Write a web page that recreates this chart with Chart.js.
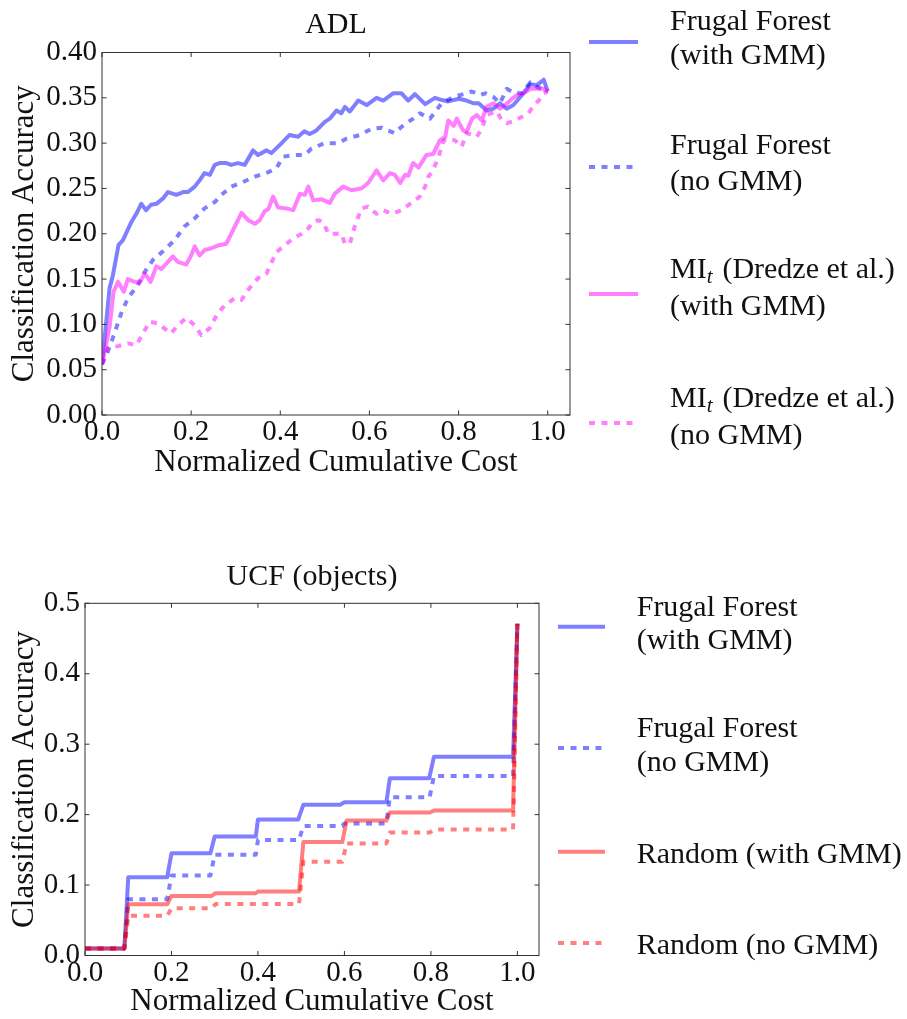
<!DOCTYPE html>
<html>
<head>
<meta charset="utf-8">
<script src="https://cdn.jsdelivr.net/npm/chart.js@4.4.1/dist/chart.umd.min.js"></script>
<style>
  html, body { margin: 0; padding: 0; background: #fff; overflow: hidden; }
  canvas { position: absolute; left: 0; display: block; }
  #c1 { top: 0; }
  #c2 { top: 500px; }
</style>
</head>
<body>
<canvas id="c1" width="907" height="500"></canvas>
<canvas id="c2" width="907" height="519"></canvas>
<script>
// ---------------- DATA ----------------
const xTickValues = [0, 0.2, 0.4, 0.6, 0.8, 1.0];
const adlYTicks = [0, 0.05, 0.10, 0.15, 0.20, 0.25, 0.30, 0.35, 0.40];
const ucfYTicks = [0, 0.1, 0.2, 0.3, 0.4, 0.5];

const adlLabels = [
  ['Frugal Forest', '(with GMM)'],
  ['Frugal Forest', '(no GMM)'],
  ['MI_t (Dredze et al.)', '(with GMM)'],
  ['MI_t (Dredze et al.)', '(no GMM)']
];
const ucfLabels = [
  ['Frugal Forest', '(with GMM)'],
  ['Frugal Forest', '(no GMM)'],
  ['Random (with GMM)'],
  ['Random (no GMM)']
];

// ADL: [normalized cumulative cost, classification accuracy]
const adlFrugalGmm = [[0,0.056],[0.017,0.14],[0.024,0.153],[0.037,0.1875],[0.047,0.193],[0.066,0.213],[0.077,0.222],[0.088,0.233],[0.099,0.226],[0.11,0.232],[0.122,0.233],[0.137,0.239],[0.148,0.246],[0.167,0.243],[0.182,0.246],[0.193,0.246],[0.208,0.252],[0.219,0.259],[0.23,0.267],[0.242,0.265],[0.253,0.276],[0.264,0.278],[0.279,0.278],[0.29,0.276],[0.305,0.278],[0.32,0.276],[0.339,0.292],[0.35,0.287],[0.369,0.292],[0.38,0.289],[0.403,0.3],[0.421,0.309],[0.44,0.307],[0.454,0.313],[0.466,0.31],[0.481,0.314],[0.5,0.3235],[0.511,0.327],[0.526,0.336],[0.537,0.333],[0.545,0.34],[0.556,0.335],[0.575,0.347],[0.594,0.342],[0.616,0.35],[0.631,0.347],[0.653,0.355],[0.672,0.355],[0.687,0.347],[0.702,0.354],[0.725,0.343],[0.747,0.35],[0.759,0.348],[0.777,0.346],[0.8,0.349],[0.818,0.347],[0.833,0.344],[0.845,0.344],[0.863,0.336],[0.878,0.338],[0.893,0.344],[0.908,0.338],[0.923,0.342],[0.942,0.353],[0.961,0.365],[0.976,0.364],[0.991,0.37],[1.0,0.357]];
const adlFrugalNoGmm = [[0,0.056],[0.013,0.07],[0.028,0.09],[0.043,0.112],[0.058,0.129],[0.08,0.143],[0.096,0.158],[0.114,0.171],[0.14,0.182],[0.163,0.193],[0.185,0.208],[0.208,0.217],[0.23,0.228],[0.253,0.235],[0.268,0.243],[0.29,0.252],[0.316,0.257],[0.343,0.263],[0.373,0.268],[0.391,0.272],[0.406,0.285],[0.433,0.287],[0.455,0.287],[0.47,0.294],[0.5,0.3],[0.53,0.3],[0.549,0.305],[0.579,0.309],[0.605,0.316],[0.627,0.317],[0.657,0.311],[0.672,0.318],[0.698,0.327],[0.713,0.333],[0.736,0.327],[0.762,0.344],[0.789,0.351],[0.818,0.355],[0.83,0.357],[0.848,0.353],[0.86,0.355],[0.878,0.351],[0.893,0.344],[0.908,0.36],[0.927,0.355],[0.942,0.355],[0.961,0.367],[0.976,0.362],[1.0,0.357]];
const adlMiGmm = [[0,0.056],[0.017,0.097],[0.026,0.136],[0.036,0.147],[0.049,0.136],[0.058,0.15],[0.073,0.147],[0.084,0.146],[0.096,0.156],[0.109,0.147],[0.122,0.164],[0.133,0.161],[0.148,0.169],[0.159,0.175],[0.17,0.169],[0.189,0.166],[0.199,0.175],[0.208,0.186],[0.219,0.176],[0.23,0.182],[0.245,0.184],[0.26,0.187],[0.279,0.189],[0.29,0.2],[0.313,0.223],[0.328,0.215],[0.343,0.211],[0.354,0.215],[0.365,0.225],[0.373,0.227],[0.384,0.241],[0.395,0.229],[0.414,0.228],[0.429,0.226],[0.444,0.244],[0.455,0.243],[0.463,0.252],[0.474,0.237],[0.493,0.238],[0.511,0.234],[0.522,0.244],[0.541,0.252],[0.56,0.248],[0.582,0.25],[0.597,0.256],[0.616,0.27],[0.631,0.259],[0.646,0.267],[0.657,0.265],[0.669,0.256],[0.68,0.265],[0.687,0.264],[0.698,0.278],[0.71,0.273],[0.728,0.287],[0.743,0.288],[0.758,0.303],[0.77,0.307],[0.777,0.325],[0.789,0.319],[0.796,0.327],[0.81,0.314],[0.818,0.3125],[0.83,0.327],[0.841,0.331],[0.852,0.325],[0.863,0.34],[0.878,0.344],[0.893,0.338],[0.905,0.342],[0.92,0.349],[0.931,0.353],[0.946,0.355],[0.961,0.36],[0.98,0.36],[0.991,0.36],[1.0,0.357]];
const adlMiNoGmm = [[0,0.056],[0.013,0.074],[0.036,0.076],[0.058,0.079],[0.077,0.077],[0.092,0.09],[0.107,0.103],[0.126,0.101],[0.144,0.094],[0.155,0.09],[0.17,0.099],[0.189,0.107],[0.208,0.099],[0.223,0.088],[0.242,0.096],[0.257,0.11],[0.275,0.121],[0.298,0.129],[0.313,0.127],[0.331,0.14],[0.35,0.151],[0.369,0.156],[0.376,0.164],[0.392,0.18],[0.414,0.189],[0.429,0.195],[0.448,0.2],[0.463,0.206],[0.474,0.213],[0.485,0.215],[0.496,0.213],[0.508,0.2],[0.522,0.2],[0.537,0.2],[0.545,0.189],[0.556,0.189],[0.567,0.208],[0.582,0.228],[0.597,0.23],[0.616,0.222],[0.631,0.226],[0.65,0.222],[0.672,0.226],[0.691,0.233],[0.713,0.241],[0.725,0.252],[0.732,0.263],[0.743,0.27],[0.755,0.285],[0.767,0.303],[0.777,0.305],[0.792,0.303],[0.807,0.296],[0.818,0.311],[0.83,0.309],[0.841,0.307],[0.852,0.316],[0.863,0.331],[0.874,0.333],[0.886,0.335],[0.897,0.325],[0.908,0.322],[0.923,0.324],[0.942,0.329],[0.957,0.333],[0.969,0.342],[0.98,0.347],[0.991,0.355],[1.0,0.357]];

// UCF (objects)
const ucfFrugalGmm = [[0,0.01],[0.091,0.01],[0.1,0.111],[0.19,0.111],[0.2,0.145],[0.29,0.145],[0.3,0.169],[0.395,0.169],[0.4,0.193],[0.493,0.193],[0.505,0.214],[0.59,0.214],[0.6,0.2175],[0.697,0.2175],[0.705,0.2515],[0.796,0.2515],[0.807,0.282],[0.99,0.282],[1.0,0.471]];
const ucfFrugalNoGmm = [[0,0.01],[0.091,0.01],[0.1,0.08],[0.19,0.08],[0.2,0.1135],[0.29,0.1135],[0.3,0.143],[0.395,0.143],[0.4,0.164],[0.495,0.164],[0.505,0.184],[0.595,0.184],[0.6,0.1875],[0.697,0.1875],[0.705,0.2245],[0.797,0.2245],[0.807,0.255],[0.99,0.255],[1.0,0.471]];
const ucfRandomGmm = [[0,0.01],[0.091,0.01],[0.1,0.0728],[0.19,0.0728],[0.2,0.0846],[0.293,0.0846],[0.302,0.0884],[0.395,0.0884],[0.4,0.0908],[0.495,0.0908],[0.505,0.161],[0.595,0.161],[0.605,0.1915],[0.697,0.1915],[0.705,0.203],[0.797,0.203],[0.807,0.2057],[0.99,0.2057],[1.0,0.471]];
const ucfRandomNoGmm = [[0,0.01],[0.091,0.01],[0.1,0.0563],[0.19,0.0563],[0.2,0.067],[0.293,0.067],[0.302,0.073],[0.495,0.073],[0.505,0.133],[0.595,0.133],[0.605,0.159],[0.697,0.159],[0.705,0.1745],[0.797,0.1745],[0.807,0.179],[0.99,0.179],[1.0,0.471]];

// ---------------- STYLE ----------------
const SERIF = "'Liberation Serif', 'DejaVu Serif', serif";
const TXT = '#111';
const BLUE = 'rgba(0,0,255,0.5)';
const MAGENTA = 'rgba(255,0,255,0.5)';
const RED = 'rgba(255,0,0,0.5)';
const DASH = [6, 6.5];

// inner ticks + full frame
const framePlugin = {
  id: 'frameTicks',
  afterDatasetsDraw(chart) {
    const ctx = chart.ctx;
    const {left, right, top, bottom} = chart.chartArea;
    const xs = chart.scales.x, ys = chart.scales.y;
    const L = 4.5;
    ctx.save();
    ctx.strokeStyle = '#333';
    ctx.lineWidth = 1;
    ctx.beginPath();
    xs.ticks.forEach(t => {
      const p = xs.getPixelForValue(t.value);
      ctx.moveTo(p, bottom); ctx.lineTo(p, bottom - L);
      ctx.moveTo(p, top); ctx.lineTo(p, top + L);
    });
    ys.ticks.forEach(t => {
      const p = ys.getPixelForValue(t.value);
      ctx.moveTo(left, p); ctx.lineTo(left + L, p);
      ctx.moveTo(right, p); ctx.lineTo(right - L, p);
    });
    ctx.stroke();
    ctx.strokeRect(left, top, right - left, bottom - top);
    ctx.restore();
  }
};

// title centred over the plot area
const axesTitlePlugin = {
  id: 'axesTitle',
  afterDraw(chart, args, opts) {
    const ctx = chart.ctx;
    const {left, right} = chart.chartArea;
    ctx.save();
    ctx.font = opts.size + 'px ' + SERIF;
    ctx.fillStyle = TXT;
    ctx.textAlign = 'center';
    ctx.textBaseline = 'middle';
    ctx.fillText(opts.text, (left + right) / 2, opts.y);
    ctx.restore();
  }
};

function drawRich(ctx, text, x, y, size) {
  const parts = text.split(/_(\w)/);
  let cx = x;
  parts.forEach((p, i) => {
    if (!p) return;
    if (i % 2 === 1) {
      ctx.font = 'italic ' + Math.round(size * 0.7) + 'px ' + SERIF;
      ctx.fillText(p, cx, y + size * 0.17);
      cx += ctx.measureText(p).width + size * 0.08;
    } else {
      ctx.font = size + 'px ' + SERIF;
      ctx.fillText(p, cx, y);
      cx += ctx.measureText(p).width;
    }
  });
}

const legendPlugin = {
  id: 'serifLegend',
  afterDraw(chart, args, opts) {
    const ctx = chart.ctx;
    ctx.save();
    chart.data.datasets.forEach((ds, i) => {
      const it = opts.items[i];
      ctx.strokeStyle = ds.borderColor;
      ctx.lineWidth = ds.borderWidth;
      ctx.setLineDash(ds.borderDash || []);
      ctx.lineCap = 'butt';
      ctx.beginPath();
      ctx.moveTo(opts.lineX[0], it.y);
      ctx.lineTo(opts.lineX[1], it.y);
      ctx.stroke();
      ctx.setLineDash([]);
      ctx.fillStyle = TXT;
      ctx.textBaseline = 'alphabetic';
      ctx.textAlign = 'left';
      ds.legendLines.forEach((line, k) => {
        drawRich(ctx, line, opts.textX, it.base[k], opts.size);
      });
    });
    ctx.restore();
  }
};

function makeDatasets(series, labels, colors, dashed) {
  const n = series.length;
  return series.map((s, i) => ({
    label: labels[i].join(' '),
    legendLines: labels[i],
    data: s.map(([x, y]) => ({x, y})),
    borderColor: colors[i],
    backgroundColor: colors[i],
    borderWidth: 4,
    borderDash: dashed[i] ? DASH : [],
    borderJoinStyle: 'round',
    borderCapStyle: 'butt',
    pointRadius: 0,
    pointHoverRadius: 0,
    fill: false,
    tension: 0,
    order: n - i
  }));
}

function makeChart(id, cfg) {
  return new Chart(document.getElementById(id), {
    type: 'line',
    data: { datasets: makeDatasets(cfg.series, cfg.labels, cfg.colors, cfg.dashed) },
    plugins: [framePlugin, legendPlugin, axesTitlePlugin],
    options: {
      responsive: false,
      animation: false,
      devicePixelRatio: 1,
      layout: { padding: { left: 0, right: cfg.padRight, top: cfg.padTop, bottom: 0 } },
      plugins: {
        legend: { display: false },
        tooltip: { enabled: false },
        title: { display: false },
        axesTitle: { text: cfg.title, y: cfg.titleY, size: 30 },
        serifLegend: cfg.legend
      },
      scales: {
        x: {
          type: 'linear', min: 0, max: 1.05,
          afterBuildTicks: s => { s.ticks = xTickValues.map(v => ({value: v})); },
          afterFit: s => { s.height = cfg.xHeight; },
          ticks: { callback: v => v.toFixed(1), color: TXT, font: { family: SERIF, size: 29 }, padding: cfg.xTickPad, maxRotation: 0, autoSkip: false },
          grid: { display: false, drawTicks: false },
          border: { display: false },
          title: { display: true, text: 'Normalized Cumulative Cost', color: TXT, font: { family: SERIF, size: 31, lineHeight: 1 }, padding: { top: 0, bottom: cfg.xTitlePad } }
        },
        y: {
          type: 'linear', min: 0, max: cfg.yMax,
          afterBuildTicks: s => { s.ticks = cfg.yTicks.map(v => ({value: v})); },
          afterFit: s => { s.width = cfg.yWidth; },
          ticks: { callback: v => v.toFixed(cfg.yDec), color: TXT, font: { family: SERIF, size: 29 }, padding: 5, autoSkip: false },
          grid: { display: false, drawTicks: false },
          border: { display: false },
          title: { display: true, text: 'Classification Accuracy', color: TXT, font: { family: SERIF, size: 31, lineHeight: 1 }, padding: { top: 9.5, bottom: 0 } }
        }
      }
    }
  });
}

makeChart('c1', {
  title: 'ADL', titleY: 25, padTop: 52.5,
  series: [adlFrugalGmm, adlFrugalNoGmm, adlMiGmm, adlMiNoGmm],
  labels: adlLabels,
  colors: [BLUE, BLUE, MAGENTA, MAGENTA],
  dashed: [false, true, false, true],
  padRight: 337,
  xHeight: 85, xTickPad: 0, xTitlePad: 22,
  yWidth: 102, yMax: 0.40, yTicks: adlYTicks, yDec: 2,
  legend: {
    lineX: [589, 638], textX: 670, size: 30,
    items: [
      { y: 42, base: [29.5, 63.5] },
      { y: 167, base: [154.3, 190] },
      { y: 294, base: [278.3, 315] },
      { y: 423, base: [407.3, 443.5] }
    ]
  }
});

makeChart('c2', {
  title: 'UCF (objects)', titleY: 77, padTop: 103.3,
  series: [ucfFrugalGmm, ucfFrugalNoGmm, ucfRandomGmm, ucfRandomNoGmm],
  labels: ucfLabels,
  colors: [BLUE, BLUE, RED, RED],
  dashed: [false, true, false, true],
  padRight: 368,
  xHeight: 63.5, xTickPad: 0, xTitlePad: 2,
  yWidth: 85, yMax: 0.5, yTicks: ucfYTicks, yDec: 1,
  legend: {
    lineX: [558, 605], textX: 636.7, size: 30,
    items: [
      { y: 126.7, base: [116, 149.3] },
      { y: 248, base: [236.7, 270.7] },
      { y: 351.7, base: [362.7] },
      { y: 443, base: [454] }
    ]
  }
});
</script>
</body>
</html>
